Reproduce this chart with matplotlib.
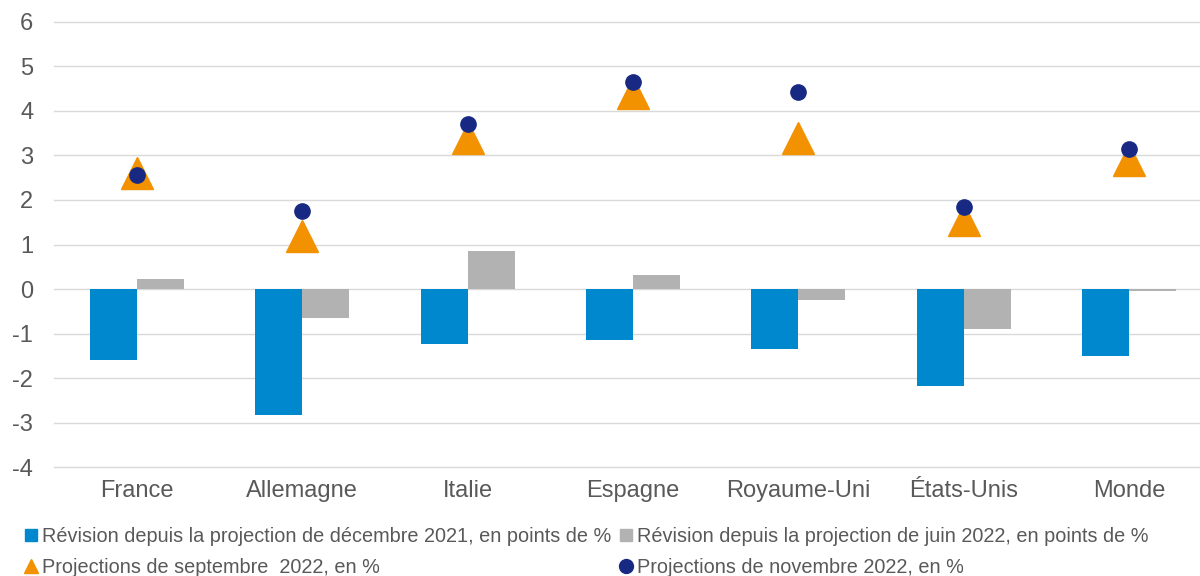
import matplotlib.pyplot as plt
from matplotlib.lines import Line2D
import numpy as np

plt.rcParams['font.family'] = ['Liberation Sans', 'DejaVu Sans']
plt.rcParams['axes.unicode_minus'] = False

pays = ["France", "Allemagne", "Italie", "Espagne", "Royaume-Uni", "États-Unis", "Monde"]
rev_dec2021 = [-1.6, -2.83, -1.24, -1.15, -1.35, -2.18, -1.5]
rev_juin2022 = [0.23, -0.65, 0.85, 0.31, -0.25, -0.9, -0.05]
proj_sept2022 = [2.6, 1.2, 3.4, 4.4, 3.4, 1.55, 2.9]
proj_nov2022 = [2.55, 1.75, 3.7, 4.65, 4.43, 1.84, 3.15]

lab_dec = "Révision depuis la projection de décembre 2021, en points de %"
lab_juin = "Révision depuis la projection de juin 2022, en points de %"
lab_sept = "Projections de septembre  2022, en %"
lab_nov = "Projections de novembre 2022, en %"

fig = plt.figure(figsize=(12, 5.76), dpi=100)
ax = fig.add_axes([0.045, 0.189, 0.965, 0.773])

x = np.arange(len(pays))
w = 0.284
ax.bar(x - w/2, rev_dec2021, w, color="#0088CE", zorder=2)
ax.bar(x + w/2, rev_juin2022, w, color="#B2B2B2", zorder=2)
ax.plot(x, proj_sept2022, linestyle="none", marker="^", markersize=23,
        color="#F39200", zorder=3)
ax.plot(x, proj_nov2022, linestyle="none", marker="o", markersize=11,
        color="#172983", zorder=4)

ax.set_xlim(-0.5, len(pays) - 0.5)
ax.set_ylim(-4, 6)
ax.set_yticks(range(-4, 7))
ax.set_xticks(x)
ax.set_xticklabels(pays)
ax.grid(axis="y", color="#D9D9D9", linewidth=1, zorder=0)
for gl in ax.get_ygridlines():
    gl.set_clip_on(False)
ax.set_axisbelow(True)
for s in ax.spines.values():
    s.set_visible(False)
ax.tick_params(length=0, labelsize=17, labelcolor="#595959")
ax.tick_params(axis="x", pad=9)
ax.tick_params(axis="y", pad=15)

h_dec = Line2D([], [], linestyle="none", marker="s", markersize=9, color="#0088CE")
h_juin = Line2D([], [], linestyle="none", marker="s", markersize=9, color="#B2B2B2")
h_sept = Line2D([], [], linestyle="none", marker="^", markersize=10, color="#F39200")
h_nov = Line2D([], [], linestyle="none", marker="o", markersize=10, color="#172983")

fig.legend([h_dec, h_sept, h_juin, h_nov], [lab_dec, lab_sept, lab_juin, lab_nov], ncol=2,
           loc="lower left", bbox_to_anchor=(0.006, -0.033), frameon=False,
           fontsize=14.3, labelcolor="#595959", handlelength=0.6, handletextpad=0.25,
           columnspacing=0.45, labelspacing=0.62)

fig.savefig("out.png")
